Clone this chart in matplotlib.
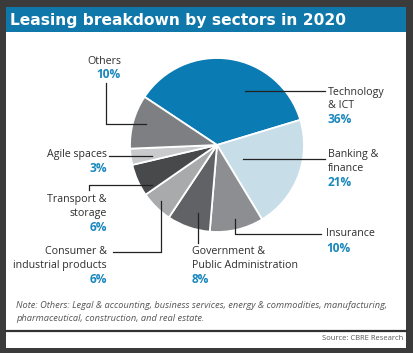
import matplotlib
matplotlib.use("Agg")
import matplotlib.pyplot as plt
from matplotlib.patches import Rectangle

sectors = ["Technology\n& ICT", "Banking &\nfinance", "Insurance",
           "Government &\nPublic Administration", "Consumer &\nindustrial products",
           "Transport &\nstorage", "Agile spaces", "Others"]
shares = [36, 21, 10, 8, 6, 6, 3, 10]
colors = ["#0b7bb3", "#c7dde7", "#8d8e91", "#616265", "#a9aaac", "#48494b", "#c9cacc", "#7e7f82"]
pct_labels = [f"{v}%" for v in shares]

W, H = 414, 353
fig = plt.figure(figsize=(W / 100, H / 100), dpi=100)
fig.patch.set_facecolor("#3b3b3b")
ax = fig.add_axes([0, 0, 1, 1])
ax.set_xlim(0, W)
ax.set_ylim(0, H)
ax.set_aspect("equal")
ax.axis("off")

def Y(py):
    return H - py

# panel
ax.add_patch(Rectangle((6, Y(348)), 400, 341, facecolor="white", edgecolor="none", zorder=0))
ax.add_patch(Rectangle((6, Y(32)), 400, 25, facecolor="#0f77a9", edgecolor="none", zorder=1))
ax.text(10, Y(20), "Leasing breakdown by sectors in 2020", color="white",
        fontsize=11.2, fontweight="bold", family="DejaVu Sans",
        va="center", ha="left", zorder=2)

# pie
ax.pie(shares, colors=colors, startangle=146.4, counterclock=False,
       center=(217, Y(145)), radius=87, frame=True,
       wedgeprops=dict(edgecolor="white", linewidth=1.3))
ax.set_xlim(0, W)
ax.set_ylim(0, H)
ax.axis("off")

txt = "#2e2e2e"
blue = "#1a87bd"
fs = 7.7
lc = "#222222"
lw = 0.9

def label(x, y, name, pct, ha):
    lines = name.split("\n")
    for i, ln in enumerate(lines):
        ax.text(x, Y(y + i * 13.5), ln, color=txt, fontsize=fs, family="Open Sans",
                ha=ha, va="center")
    ax.text(x, Y(y + len(lines) * 13.5 + 0.5), pct, color=blue, fontsize=fs + 0.9,
            family="Open Sans", fontweight="bold", ha=ha, va="center")

def path(pts):
    ax.plot([p[0] for p in pts], [Y(p[1]) for p in pts], color=lc, lw=lw, zorder=5)

# Technology
label(328, 92, sectors[0], pct_labels[0], "left")
path([(245, 91), (325, 91)])
# Banking
label(328, 155, sectors[1], pct_labels[1], "left")
path([(243, 159), (325, 159)])
# Insurance
label(326, 234, sectors[2], pct_labels[2], "left")
path([(235, 219), (235, 234), (321, 234)])
# Government
label(192, 252, sectors[3], pct_labels[3], "left")
path([(198, 213), (198, 243)])
# Consumer
label(107, 252, sectors[4], pct_labels[4], "right")
path([(161, 201), (161, 252), (113, 252)])
# Transport
label(107, 200, sectors[5], pct_labels[5], "right")
path([(152, 185), (89, 185), (89, 190)])
# Agile
label(107, 155, sectors[6], pct_labels[6], "right")
path([(152, 156), (109, 156)])
# Others
label(121, 61, sectors[7], pct_labels[7], "right")
path([(106, 83), (106, 124), (146, 124)])

# note
ax.text(16, Y(306), "Note: Others: Legal & accounting, business services, energy & commodities, manufacturing,",
        color="#555555", fontsize=6.65, style="italic", family="Open Sans", ha="left", va="center")
ax.text(16, Y(318.5), "pharmaceutical, construction, and real estate.",
        color="#555555", fontsize=6.65, style="italic", family="Open Sans", ha="left", va="center")
ax.plot([6, 406], [Y(331), Y(331)], color="#333333", lw=1.6)
ax.text(403, Y(338.5), "Source: CBRE Research", color="#555555", fontsize=5.5,
        family="Open Sans", ha="right", va="center")

fig.savefig("out.png", dpi=100, facecolor=fig.get_facecolor())
